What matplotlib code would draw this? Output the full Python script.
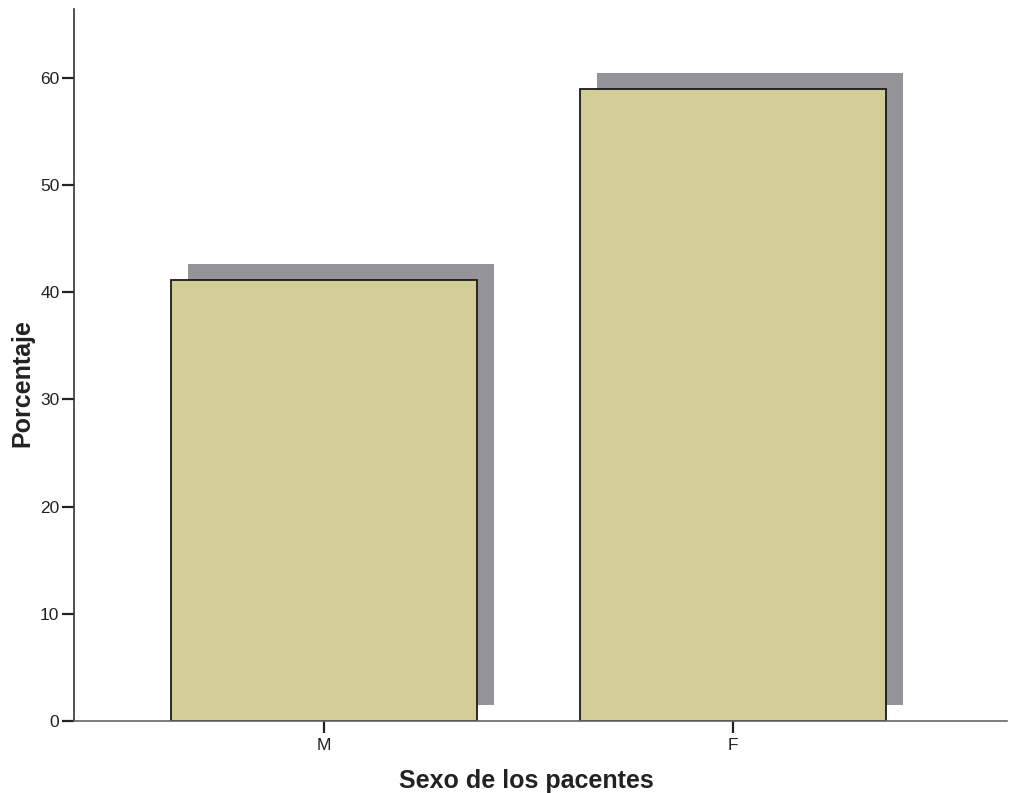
import numpy as np
import matplotlib
matplotlib.use("Agg")
import matplotlib.pyplot as plt
import matplotlib.transforms as mtransforms

categories = ["M", "F"]
percentages = [41.1, 58.9]
yticks = [0, 10, 20, 30, 40, 50, 60]

plt.rcParams["font.family"] = ["Liberation Sans", "DejaVu Sans"]

fig = plt.figure(figsize=(10.19, 7.93), dpi=100)
ax = fig.add_axes([0.0726, 0.0908, 0.9156, 0.8979])

x = np.arange(len(categories))
width = 0.75

# drop shadow: same bars shifted right and up by a few pixels
shadow = mtransforms.offset_copy(ax.transData, fig=fig, x=17, y=16, units="dots")
ax.bar(x, percentages, width=width, color="#939398", edgecolor="none",
       transform=shadow, zorder=1)
ax.bar(x, percentages, width=width, color="#D3CE98", edgecolor="#1a1a1a",
       linewidth=1.3, zorder=2)

ax.set_xlim(-0.611, 1.67)
ax.set_ylim(0, 66.4)
ax.set_xticks(x)
ax.set_xticklabels(categories)
ax.set_yticks(yticks)

for side in ["top", "right"]:
    ax.spines[side].set_visible(False)
ax.spines["left"].set_color("#333333")
ax.spines["bottom"].set_color("#666666")
ax.spines["left"].set_linewidth(1.2)
ax.spines["bottom"].set_linewidth(1.2)
ax.tick_params(axis="both", length=8.5, width=1.6, color="#222222",
               labelsize=12.5, labelcolor="#222222")
ax.tick_params(axis="x", pad=4)
ax.tick_params(axis="y", pad=2)

ax.set_xlabel("Sexo de los pacentes", fontsize=18, fontweight="bold",
              color="#222222", labelpad=11.5)
ax.set_ylabel("Porcentaje", fontsize=18, fontweight="bold",
              color="#222222", labelpad=4)
# titles sit a little off the axis centre
ax.xaxis.label.set_x(0.4845)
ax.yaxis.label.set_y(0.474)

fig.savefig("out.png", dpi=100)
